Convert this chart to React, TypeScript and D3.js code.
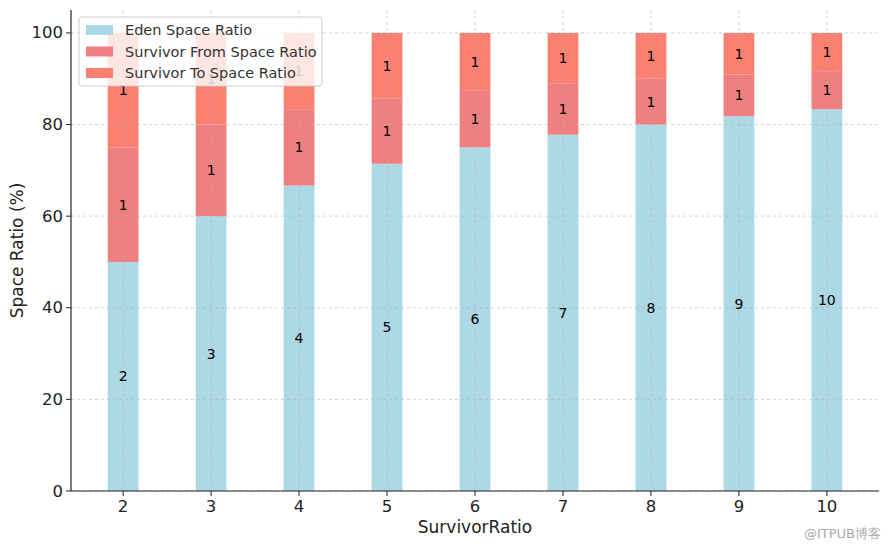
import React from "react";
import * as d3 from "d3";

const ratios = [2, 3, 4, 5, 6, 7, 8, 9, 10];
const edenValues = [50, 60, 66.67, 71.43, 75, 77.78, 80, 81.82, 83.33];
const fromValues = [25, 20, 16.67, 14.29, 12.5, 11.11, 10, 9.09, 8.33];
const toValues = [25, 20, 16.67, 14.29, 12.5, 11.11, 10, 9.09, 8.33];
const edenLabels = ["2", "3", "4", "5", "6", "7", "8", "9", "10"];
const fromLabels = ["1", "1", "1", "1", "1", "1", "1", "1", "1"];
const toLabels = ["1", "1", "1", "1", "1", "1", "1", "1", "1"];
const yTicks = [0, 20, 40, 60, 80, 100];
const seriesNames = ["Eden Space Ratio", "Survivor From Space Ratio", "Survivor To Space Ratio"];
const colors = ["#ADD8E6", "#F08080", "#FA8072"];

const W = 890, H = 547;
const FONT = "DejaVu Sans, sans-serif";

export default function App() {
  const left = 71, right = 879, top = 10, bottom = 491;
  const x = d3.scaleLinear().domain([1.4075, 10.5925]).range([left, right]);
  const y = d3.scaleLinear().domain([0, 105]).range([bottom, top]);
  const bw = x(2.35) - x(2);

  const stacks = ratios.map((r, i) => {
    const e = edenValues[i], f = fromValues[i], t = toValues[i];
    return [
      { y0: 0, y1: e, c: colors[0], label: edenLabels[i] },
      { y0: e, y1: e + f, c: colors[1], label: fromLabels[i] },
      { y0: e + f, y1: e + f + t, c: colors[2], label: toLabels[i] },
    ].map((s) => ({ ...s, r }));
  });

  return (
    <svg width={W} height={H} style={{ position: "absolute", left: 0, top: 0, background: "#fff" }} fontFamily={FONT}>
      {stacks.map((st, i) =>
        st.map((s, j) => (
          <rect key={`b${i}-${j}`} x={x(s.r) - bw / 2} y={y(s.y1)} width={bw} height={y(s.y0) - y(s.y1)} fill={s.c} />
        ))
      )}
      {yTicks.map((t) => (
        <line key={`gy${t}`} x1={left} x2={right} y1={y(t)} y2={y(t)} stroke="#b0b0b0" strokeOpacity={0.7} strokeWidth={0.8} strokeDasharray="3,3" />
      ))}
      {ratios.map((r) => (
        <line key={`gx${r}`} x1={x(r)} x2={x(r)} y1={top} y2={bottom} stroke="#b0b0b0" strokeOpacity={0.7} strokeWidth={0.8} strokeDasharray="3,3" />
      ))}
      {stacks.map((st, i) =>
        st.map((s, j) => (
          <text key={`l${i}-${j}`} x={x(s.r)} y={y((s.y0 + s.y1) / 2)} textAnchor="middle" dominantBaseline="central" fontSize={14} fill="#000">
            {s.label}
          </text>
        ))
      )}
      <line x1={left} x2={left} y1={top} y2={bottom} stroke="#222" strokeWidth={1.2} />
      <line x1={left} x2={right} y1={bottom} y2={bottom} stroke="#222" strokeWidth={1.2} />
      {yTicks.map((t) => (
        <g key={`yt${t}`}>
          <line x1={left - 5} x2={left} y1={y(t)} y2={y(t)} stroke="#222" strokeWidth={1} />
          <text x={left - 8} y={y(t)} textAnchor="end" dominantBaseline="central" fontSize={16.5} fill="#222">{t}</text>
        </g>
      ))}
      {ratios.map((r) => (
        <g key={`xt${r}`}>
          <line x1={x(r)} x2={x(r)} y1={bottom} y2={bottom + 5} stroke="#222" strokeWidth={1} />
          <text x={x(r)} y={bottom + 21} textAnchor="middle" fontSize={16.5} fill="#222">{r}</text>
        </g>
      ))}
      <text x={(left + right) / 2} y={533} textAnchor="middle" fontSize={17} fill="#222">SurvivorRatio</text>
      <text transform={`translate(23,${(top + bottom) / 2}) rotate(-90)`} textAnchor="middle" fontSize={17} fill="#222">Space Ratio (%)</text>
      <rect x={79} y={17} width={243} height={69} rx={3} fill="#fff" fillOpacity={0.8} stroke="#cccccc" strokeWidth={1} />
      {seriesNames.map((n, i) => (
        <g key={`lg${i}`}>
          <rect x={86} y={25 + i * 21.5} width={27} height={10} fill={colors[i]} />
          <text x={125} y={30 + i * 21.5} dominantBaseline="central" fontSize={14.5} fill="#333">{n}</text>
        </g>
      ))}
      <text x={881} y={538} textAnchor="end" fontSize={13} fill="#aaaaaa">@ITPUB博客</text>
    </svg>
  );
}
